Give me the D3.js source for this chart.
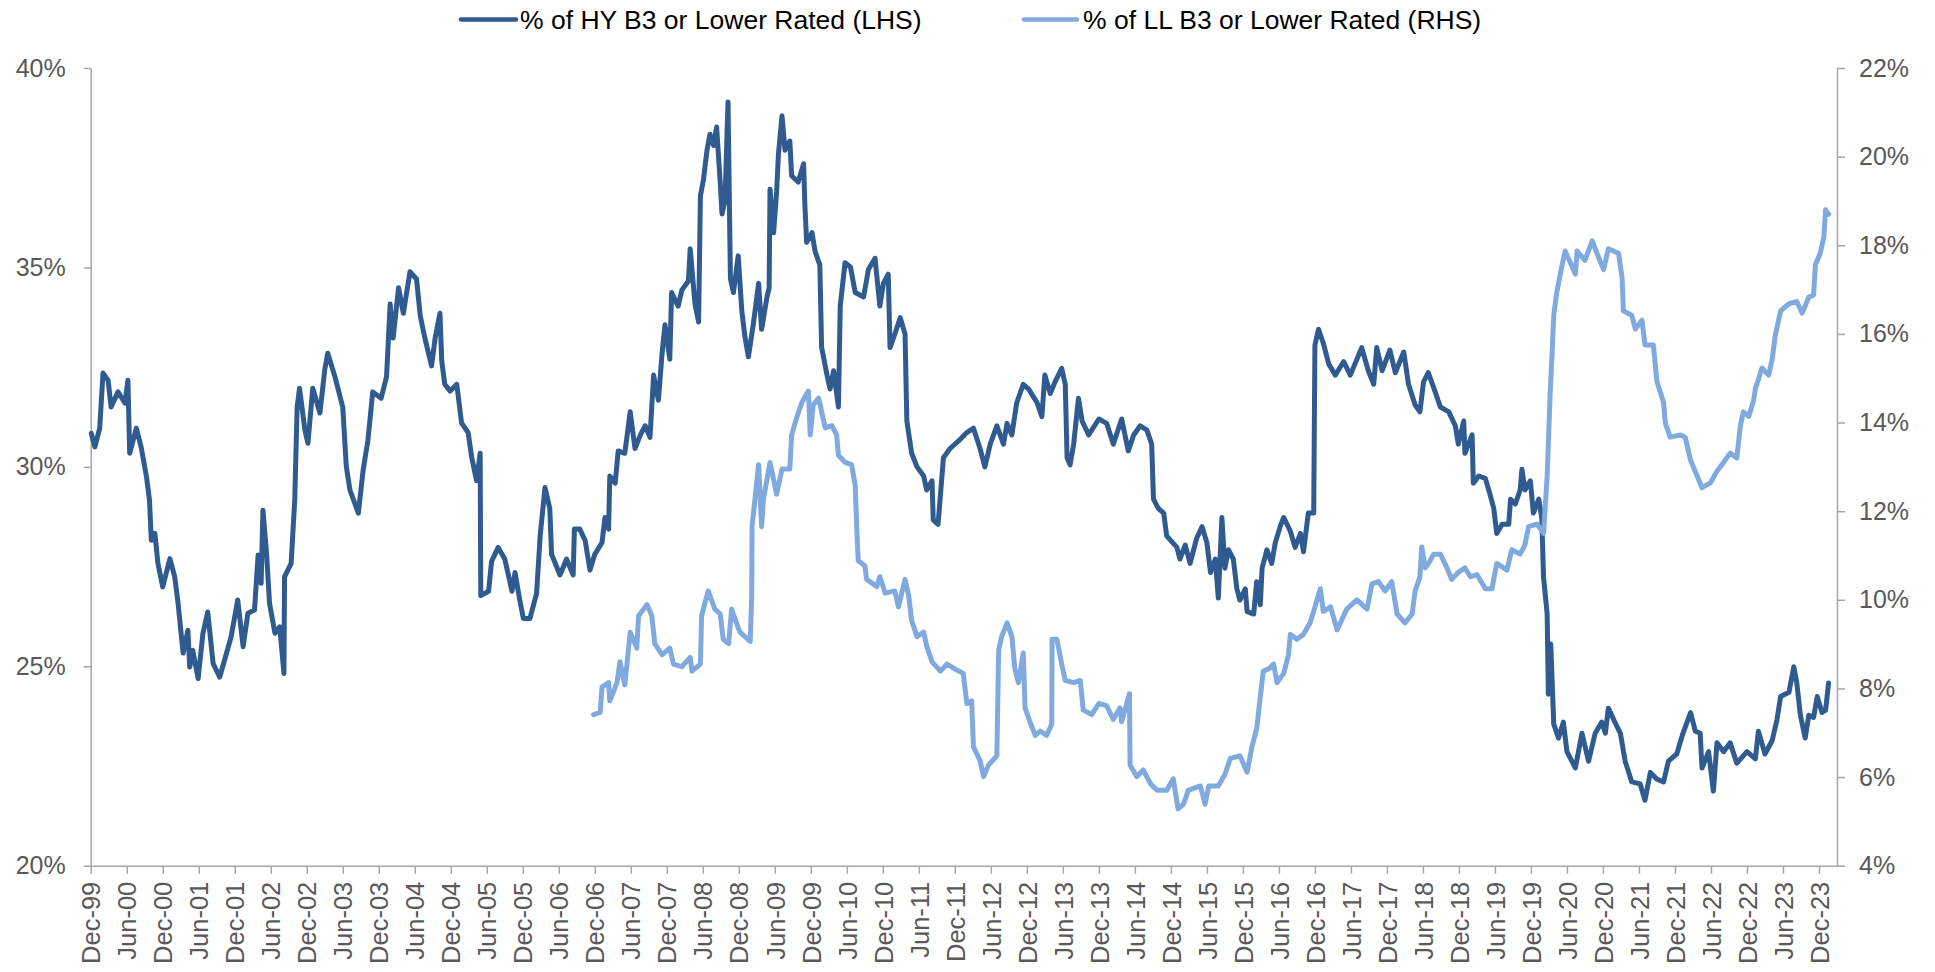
<!DOCTYPE html>
<html>
<head>
<meta charset="utf-8">
<script src="https://cdn.jsdelivr.net/npm/d3@7"></script>
<style>
  html, body { margin: 0; padding: 0; background: #ffffff; }
  svg { display: block; }
  text { font-family: "Liberation Sans", Arial, Helvetica, sans-serif; }
</style>
</head>
<body>
<svg id="chart" width="1935" height="972"></svg>
<script>
// ---- DATA (t = months since Dec-1999, value in %) ----
const seriesNames = ["% of HY B3 or Lower Rated (LHS)", "% of LL B3 or Lower Rated (RHS)"];

const xTickLabels = ["Dec-99","Jun-00","Dec-00","Jun-01","Dec-01","Jun-02","Dec-02","Jun-03","Dec-03","Jun-04",
  "Dec-04","Jun-05","Dec-05","Jun-06","Dec-06","Jun-07","Dec-07","Jun-08","Dec-08","Jun-09",
  "Dec-09","Jun-10","Dec-10","Jun-11","Dec-11","Jun-12","Dec-12","Jun-13","Dec-13","Jun-14",
  "Dec-14","Jun-15","Dec-15","Jun-16","Dec-16","Jun-17","Dec-17","Jun-18","Dec-18","Jun-19",
  "Dec-19","Jun-20","Dec-20","Jun-21","Dec-21","Jun-22","Dec-22","Jun-23","Dec-23"];
const xTickMonths = xTickLabels.map((_, i) => i * 6);

const leftTicks = [20, 25, 30, 35, 40];
const rightTicks = [4, 6, 8, 10, 12, 14, 16, 18, 20, 22];

const hySeries = [
[0.1,30.84],[0.7,30.5],[1.5,30.97],[2.05,32.35],[2.9,32.17],[3.4,31.5],[4.55,31.88],[5.7,31.6],[6.2,32.17],[6.5,30.34],
[7.6,30.97],[8.4,30.5],[9.3,29.75],[9.8,29.16],[10.1,28.16],[10.7,28.33],[11.2,27.58],[12,26.99],[13.2,27.7],[14,27.24],
[14.5,26.66],[15.4,25.33],[16.2,25.9],[16.5,24.98],[17,25.4],[17.9,24.69],[18.7,25.82],[19.5,26.36],[20.4,25.07],[21.5,24.73],
[22.3,25.15],[23.4,25.74],[24.5,26.66],[25.4,25.49],[26.2,26.33],[27.3,26.41],[27.9,27.79],[28.4,27.08],[28.7,28.91],[29.3,27.84],
[29.8,26.58],[30.7,25.83],[31.5,25.99],[32.2,24.82],[32.3,27.24],[33.4,27.58],[34,29.16],[34.4,31.5],[34.8,31.97],[35.7,30.92],
[36.2,30.59],[37,31.97],[38.2,31.35],[39,32.43],[39.5,32.85],[40.7,32.26],[42,31.5],[42.6,30],[43.2,29.42],[44.6,28.84],
[45.4,29.92],[46.2,30.67],[47,31.88],[48.4,31.72],[49.3,32.26],[49.9,34.08],[50.4,33.23],[51.3,34.49],[52.1,33.85],[53.2,34.89],
[54.3,34.71],[54.9,33.8],[55.7,33.22],[56.8,32.53],[57.4,33.23],[58.2,33.85],[58.5,32.65],[59,32.07],[59.9,31.9],[61,32.07],
[61.8,31.1],[62.9,30.86],[63.5,30.23],[64.3,29.65],[64.9,30.34],[65,26.77],[66.3,26.88],[66.8,27.63],[67.9,27.98],[69,27.69],
[69.6,27.29],[70.2,26.88],[70.7,27.35],[71.5,26.66],[72.1,26.2],[73.2,26.2],[74.3,26.83],[74.9,28.27],[75.7,29.48],[76.5,28.96],
[76.8,27.81],[78.2,27.29],[79.3,27.69],[80.4,27.29],[80.6,28.44],[81.5,28.44],[82.4,28.15],[83.2,27.41],[84,27.81],[85.2,28.1],
[85.7,28.73],[86.3,28.44],[86.5,29.77],[87.4,29.59],[87.9,30.4],[89,30.34],[89.9,31.38],[90.7,30.46],[91.6,30.8],[92.4,31.03],
[93.2,30.74],[93.8,32.3],[94.6,31.67],[95.2,32.82],[95.7,33.56],[96.5,32.7],[96.8,34.37],[97.9,34.03],[98.5,34.43],[99.6,34.66],
[99.9,35.47],[100.7,34.08],[101.3,33.63],[101.6,36.79],[102.1,37.19],[102.7,37.94],[103.2,38.34],[103.8,38.06],[104.3,38.52],[104.9,37.14],
[105.2,36.34],[105.7,36.67],[106.2,39.15],[106.6,34.72],[107.1,34.37],[107.9,35.29],[108.5,33.91],[109,33.28],[109.6,32.76],[110.4,33.56],
[111.3,34.6],[111.8,33.45],[112.7,34.26],[113.05,34.48],[113.2,36.96],[113.8,35.87],[114.3,36.9],[114.6,37.83],[115.2,38.8],[115.7,37.94],
[116.5,38.17],[116.8,37.3],[117.9,37.14],[118.8,37.6],[119,36.61],[119.3,35.63],[120.2,35.87],[120.7,35.41],[121.5,35.06],[121.8,32.99],
[122.7,32.3],[123.2,31.95],[123.8,32.41],[124.6,31.5],[124.9,34.03],[125.7,35.12],[126.6,35.01],[127.4,34.37],[128.8,34.26],[129.6,34.95],
[130.7,35.23],[131.5,34.03],[132.1,34.6],[132.9,34.83],[133.2,32.99],[134,33.33],[134.9,33.74],[135.7,33.33],[136,31.15],[136.8,30.34],
[137.7,30],[138.8,29.77],[139.3,29.42],[140.2,29.65],[140.4,28.67],[141.2,28.56],[141.6,29.3],[142.1,30.23],[143.2,30.46],[144.9,30.69],
[146,30.86],[147.1,30.97],[148.2,30.46],[149,30],[149.9,30.57],[151,31.03],[152.1,30.57],[152.7,31.09],[153.5,30.8],[154.3,31.6],
[155.4,32.07],[156.3,31.95],[157.7,31.61],[158.5,31.26],[159,32.3],[159.9,31.84],[160.7,32.13],[161.8,32.47],[162.4,32.07],[162.7,30.23],
[163.2,30.05],[163.8,30.57],[164.6,31.72],[165.2,31.15],[166.3,30.8],[168,31.2],[169.3,31.09],[170.4,30.57],[171.8,31.2],[172.9,30.4],
[173.8,30.8],[174.9,31.03],[176,30.92],[176.8,30.57],[177.1,29.19],[177.9,28.96],[178.8,28.84],[179.3,28.27],[181,27.98],[181.5,27.69],
[182.4,28.04],[183.2,27.58],[184.3,28.21],[185.2,28.5],[186,28.1],[186.6,27.35],[187.4,27.69],[187.9,26.71],[188.5,28.73],[189,27.46],
[189.6,27.92],[190.4,27.69],[191,26.94],[191.5,26.66],[192.4,26.94],[192.7,26.37],[193.8,26.31],[194.3,27.12],[194.9,26.54],[195.2,27.46],
[196,27.92],[196.8,27.58],[197.4,28.1],[198.2,28.5],[198.8,28.73],[199.9,28.39],[200.7,27.98],[201.6,28.33],[202.1,27.87],[202.9,28.84],
[203.8,28.84],[204,33.05],[204.6,33.45],[205.4,33.1],[206.3,32.58],[207.4,32.3],[208.8,32.64],[209.9,32.3],[211.8,32.99],[212.9,32.41],
[213.8,32.07],[214.3,32.99],[215.2,32.41],[216.5,32.93],[217.4,32.36],[218.8,32.88],[219.6,32.07],[220.7,31.55],[221.5,31.38],[222.1,32.13],
[222.9,32.36],[224,31.9],[224.9,31.5],[226.3,31.38],[227.4,31.03],[227.9,30.57],[228.8,31.15],[229,30.34],[230.2,30.8],[230.4,29.59],
[231.3,29.77],[232.4,29.71],[233.2,29.3],[233.8,28.96],[234.3,28.33],[235.2,28.56],[236.3,28.56],[236.6,29.19],[237.4,29.07],[238.2,29.42],
[238.5,29.94],[239,29.42],[239.9,29.65],[240.4,28.84],[241.3,29.19],[241.8,28.73],[242.1,27.23],[242.7,26.31],[242.9,24.3],[243.3,25.56],
[243.8,23.55],[244.6,23.2],[245.4,23.6],[246,22.86],[247.4,22.45],[248.5,23.32],[249.6,22.62],[250.7,23.32],[251.8,23.6],[252.4,23.32],
[252.9,23.95],[253.8,23.66],[254.9,23.32],[255.7,22.62],[256.8,22.1],[258.2,22.05],[259,21.64],[259.9,22.34],[261,22.17],[262.1,22.1],
[262.9,22.62],[264.3,22.8],[265.2,23.26],[266.6,23.84],[267.4,23.37],[268.2,23.32],[268.5,22.45],[269.6,22.86],[270.4,21.87],[271,23.08],
[272.1,22.86],[273.2,23.08],[274.3,22.57],[276,22.86],[277.4,22.68],[277.9,23.37],[279,22.8],[280.2,23.14],[281,23.66],[281.6,24.24],
[283,24.35],[283.8,24.99],[284.3,24.58],[284.9,23.77],[285.7,23.2],[286.3,23.77],[287.1,23.72],[287.7,24.24],[288.5,23.84],[289.1,23.9],
[289.6,24.58]
];

const llSeries = [
[83.8,7.41],[84.9,7.46],[85.2,8.03],[86.3,8.13],[86.5,7.72],[87.7,8.13],[88.2,8.6],[89,8.08],[89.6,8.86],[89.9,9.27],
[91,8.91],[91.3,9.64],[92.7,9.89],[93.5,9.64],[94,9.01],[95.2,8.76],[96.5,8.91],[97.1,8.55],[98.5,8.49],[99.9,8.7],
[100.2,8.39],[101.6,8.55],[101.8,9.64],[102.9,10.2],[104,9.79],[104.9,9.68],[105.4,9.11],[106.3,9.01],[106.8,9.79],[107.9,9.37],
[108.2,9.27],[109.9,9.06],[110.15,10.1],[110.2,11.65],[110.7,12.28],[111.3,13.05],[111.8,11.65],[112.1,12.27],[113.2,13.1],[114.3,12.38],
[115.2,12.95],[116.5,12.95],[116.8,13.72],[117.7,14.14],[118.5,14.45],[119.6,14.71],[119.9,13.72],[120.4,14.4],[121.3,14.55],[122.4,13.88],
[123.5,13.93],[124.3,13.72],[124.6,13.26],[125.7,13.1],[126.8,13.05],[127.4,12.58],[127.7,11.45],[127.9,10.88],[129,10.77],[129.3,10.46],
[131,10.3],[131.5,10.52],[132.4,10.15],[134,10.2],[134.6,9.84],[135.7,10.46],[136.3,10.1],[136.8,9.53],[137.7,9.17],[138.8,9.27],
[139.3,8.96],[140.2,8.6],[141.6,8.39],[142.7,8.55],[144,8.44],[145.4,8.34],[146,7.66],[146.8,7.72],[147.1,6.68],[148.2,6.37],
[148.8,6.01],[149.6,6.27],[151,6.48],[151.3,8.86],[151.8,9.17],[152.7,9.48],[153.5,9.17],[154,8.44],[154.6,8.13],[155.4,8.8],
[155.7,7.56],[156.5,7.25],[157.4,6.94],[158.2,7.04],[159.3,6.94],[160.15,7.2],[160.2,9.11],[161,9.11],[161.8,8.55],[162.4,8.18],
[163.8,8.13],[164.9,8.18],[165.4,7.51],[166.8,7.41],[168,7.66],[169.3,7.61],[170.4,7.3],[171.5,7.56],[171.8,7.25],[173.1,7.88],
[173.2,6.27],[174.3,6.01],[175.4,6.16],[176.6,5.85],[177.7,5.7],[179.3,5.7],[180.4,5.96],[181.2,5.28],[182.1,5.39],[182.9,5.7],
[184.9,5.8],[185.7,5.39],[186.3,5.8],[187.9,5.8],[189,6.06],[189.9,6.42],[191.5,6.48],[192.7,6.11],[193.5,6.68],[194.3,7.09],
[194.9,7.82],[195.4,8.39],[196.3,8.44],[197.1,8.55],[197.7,8.13],[198.8,8.34],[199.6,8.76],[199.9,9.22],[201,9.11],[202.1,9.22],
[203.2,9.48],[203.8,9.74],[204.9,10.25],[205.4,9.74],[206.6,9.84],[207.7,9.32],[209.3,9.79],[211,10],[212.7,9.79],[213.5,10.36],
[214.6,10.41],[215.7,10.2],[216.8,10.41],[217.7,9.68],[219,9.48],[220.2,9.68],[220.7,10.2],[221.5,10.52],[221.8,11.19],[222.4,10.72],
[223.2,10.88],[223.8,11.03],[224.9,11.03],[226,10.72],[226.8,10.46],[227.9,10.62],[229,10.72],[229.9,10.52],[231,10.57],[232.4,10.25],
[233.5,10.25],[234.3,10.82],[236,10.67],[236.8,11.13],[238.2,11.03],[239,11.24],[239.6,11.65],[241,11.71],[242.1,11.5],[242.7,12.79],
[242.9,13.52],[243.2,14.66],[243.5,15.49],[243.8,16.42],[244.3,16.94],[245.2,17.56],[245.7,17.87],[247.4,17.35],[247.7,17.87],[249,17.66],
[250.2,18.1],[251,17.82],[252.1,17.45],[252.9,17.92],[254.6,17.82],[255.2,17.25],[255.4,16.52],[256.8,16.42],[257.4,16.11],[258.5,16.31],
[259,15.75],[260.4,15.75],[261,14.92],[262.1,14.45],[262.4,13.98],[263.2,13.67],[264.9,13.72],[265.7,13.67],[266.6,13.15],[267.7,12.79],
[268.5,12.53],[269.9,12.64],[271,12.9],[272.1,13.1],[273.2,13.31],[274.3,13.2],[274.9,13.93],[275.4,14.24],[276.3,14.14],[277.1,14.5],
[277.4,14.76],[278.5,15.23],[279.6,15.07],[280.2,15.43],[280.7,15.95],[281.6,16.52],[283,16.68],[284.3,16.73],[285.2,16.47],[286.3,16.83],
[287.1,16.88],[287.4,17.56],[288.2,17.82],[288.8,18.18],[289.1,18.8],[289.6,18.7]
];

// ---- LAYOUT ----
const colors = ["#2F5B91", "#80AADF"];
const axisColor = "#A6A6A6";
const labelColor = "#595959";
const plotLeft = 90.7, plotRight = 1837, plotTop = 68, plotBottom = 865.7;

const svg = d3.select("#chart");

const x = d3.scaleLinear().domain([0, 291]).range([plotLeft, plotRight]);
const yL = d3.scaleLinear().domain([20, 40]).range([plotBottom, plotTop]);
const yR = d3.scaleLinear().domain([4, 22]).range([plotBottom, plotTop]);

function styleAxis(g) {
  g.select(".domain").attr("stroke", axisColor).attr("stroke-width", 1.5);
  g.selectAll(".tick line").attr("stroke", axisColor).attr("stroke-width", 1.5);
  g.selectAll(".tick text").attr("fill", labelColor)
    .style("font-family", '"Liberation Sans", Arial, sans-serif');
}

// Left axis
const gL = svg.append("g").attr("transform", `translate(${plotLeft},0)`)
  .call(d3.axisLeft(yL).tickValues(leftTicks).tickFormat(d => d + "%")
    .tickSize(7).tickSizeOuter(0).tickPadding(18));
styleAxis(gL);
gL.selectAll(".tick text").style("font-size", "25px");

// Right axis
const gR = svg.append("g").attr("transform", `translate(${plotRight},0)`)
  .call(d3.axisRight(yR).tickValues(rightTicks).tickFormat(d => d + "%")
    .tickSize(8).tickSizeOuter(0).tickPadding(14));
styleAxis(gR);
gR.selectAll(".tick text").style("font-size", "25px");

// Bottom axis
const gB = svg.append("g").attr("transform", `translate(0,${plotBottom})`)
  .call(d3.axisBottom(x).tickValues(xTickMonths).tickFormat((d, i) => xTickLabels[i])
    .tickSize(8).tickSizeOuter(0));
styleAxis(gB);
gB.selectAll(".tick text")
  .style("font-size", "25.5px")
  .attr("transform", "rotate(-90)")
  .attr("x", -16).attr("y", 0).attr("dy", "0.36em")
  .style("text-anchor", "end");

// Lines
const lineL = d3.line().x(d => x(d[0])).y(d => yL(d[1]));
const lineR = d3.line().x(d => x(d[0])).y(d => yR(d[1]));

svg.append("path").datum(hySeries)
  .attr("d", lineL).attr("fill", "none").attr("stroke", colors[0])
  .attr("stroke-width", 5).attr("stroke-linejoin", "round").attr("stroke-linecap", "round");

svg.append("path").datum(llSeries)
  .attr("d", lineR).attr("fill", "none").attr("stroke", colors[1])
  .attr("stroke-width", 5).attr("stroke-linejoin", "round").attr("stroke-linecap", "round");

// Legend
const legendItems = [
  { name: seriesNames[0], color: colors[0], x1: 461, x2: 516, tx: 520 },
  { name: seriesNames[1], color: colors[1], x1: 1024, x2: 1077, tx: 1083 }
];
const lg = svg.append("g");
legendItems.forEach(it => {
  lg.append("line").attr("x1", it.x1).attr("x2", it.x2).attr("y1", 19.5).attr("y2", 19.5)
    .attr("stroke", it.color).attr("stroke-width", 4.5).attr("stroke-linecap", "round");
  lg.append("text").attr("x", it.tx).attr("y", 29).attr("fill", "#000")
    .style("font-size", "26.5px").text(it.name);
});
</script>
</body>
</html>
